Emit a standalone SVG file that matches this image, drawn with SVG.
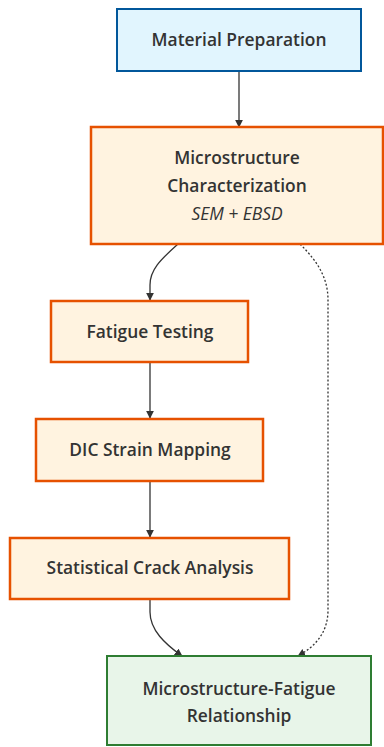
<svg xmlns="http://www.w3.org/2000/svg" width="384" height="747" viewBox="0 0 384 747">
<defs>
<style>
.t{font-family:"Open Sans","DejaVu Sans",sans-serif;font-size:17.4px;font-weight:600;fill:#333;text-anchor:middle}
.i{font-style:italic;font-weight:400}
.blue{fill:#e1f5fe;stroke:#01579b;stroke-width:2}
.orange{fill:#fff3e0;stroke:#e65100;stroke-width:2.5}
.green{fill:#e8f5e9;stroke:#2e7d32;stroke-width:2}
.e{fill:none;stroke:#333;stroke-width:1.3}
.d{fill:none;stroke:#333;stroke-width:1.3;stroke-dasharray:2 2}
</style>
<marker id="ah" viewBox="0 0 10 10" refX="9" refY="5" markerWidth="8" markerHeight="8" markerUnits="userSpaceOnUse" orient="auto"><path d="M0,0 L10,5 L0,10 z" fill="#333"/></marker>
</defs>
<g id="edges">
<path class="e" d="M239,71 L239,127" marker-end="url(#ah)"/>
<path class="e" d="M178,244 C160,260 150,270 150,285 L150,300" marker-end="url(#ah)"/>
<path class="e" d="M150,362 L150,418" marker-end="url(#ah)"/>
<path class="e" d="M150,481 L150,537" marker-end="url(#ah)"/>
<path class="e" d="M150,599 L150,612 C150,630 165,644 182,656" marker-end="url(#ah)"/>
<path class="d" d="M300,244 C318,262 328,278 328,300 L328,610 C328,632 316,646 298,656" marker-end="url(#ah)"/>
</g>
<g id="material"><rect class="blue" x="117" y="9" width="244" height="62"/><text class="t" x="239" y="46">Material Preparation</text></g>
<g id="micro"><rect class="orange" x="91" y="127" width="292" height="117"/><text class="t" x="237" y="164">Microstructure</text><text class="t" x="237" y="192">Characterization</text><text class="t i" x="237" y="220">SEM + EBSD</text></g>
<g id="fatigue"><rect class="orange" x="51" y="301" width="197" height="61"/><text class="t" x="150" y="338">Fatigue Testing</text></g>
<g id="dic"><rect class="orange" x="36" y="419" width="227" height="62"/><text class="t" x="150" y="456">DIC Strain Mapping</text></g>
<g id="stat"><rect class="orange" x="10" y="538" width="279" height="61"/><text class="t" x="150" y="574">Statistical Crack Analysis</text></g>
<g id="rel"><rect class="green" x="107" y="656" width="264" height="89"/><text class="t" x="239" y="695">Microstructure-Fatigue</text><text class="t" x="239" y="722">Relationship</text></g>
</svg>
